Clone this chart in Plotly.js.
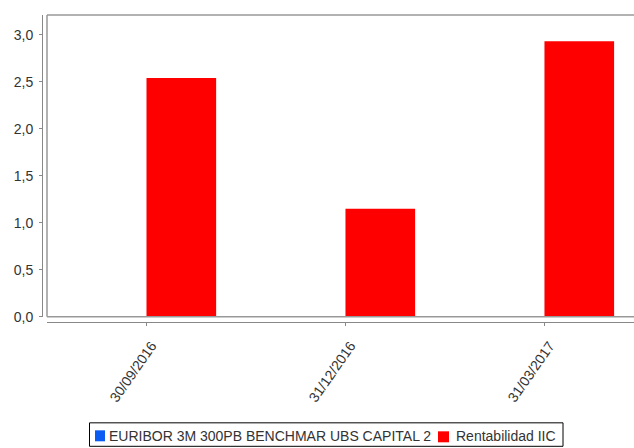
<!DOCTYPE html>
<html>
<head>
<meta charset="utf-8">
<script src="https://cdn.plot.ly/plotly-3.0.1.min.js"></script>
<style>html,body{margin:0;padding:0;background:#fff;}#chart{width:634px;height:448px;}</style>
</head>
<body>
<div id="chart"></div>
<script>
const categories = ['30/09/2016', '31/12/2016', '31/03/2017'];
const benchmarkValues = [0, 0, 0];
const fundValues = [2.54, 1.15, 2.93];
const benchmarkName = 'EURIBOR 3M 300PB BENCHMAR UBS CAPITAL 2';
const fundName = 'Rentabilidad IIC';
const benchmarkColor = '#0a5cf2';
const fundColor = '#ff0000';

const traces = [
  {type: 'bar', name: benchmarkName, x: categories, y: benchmarkValues,
   marker: {color: benchmarkColor}, showlegend: false},
  {type: 'bar', name: fundName, x: categories, y: fundValues,
   marker: {color: fundColor}, showlegend: false}
];

const W = 634, H = 448;
const mL = 42, mR = 0, mT = 15, mB = 125.5;
const plotW = W - mL - mR, plotH = H - mT - mB;
const px = v => (v - mL) / plotW;
const py = v => (H - mB - v) / plotH;

const FONT = 'Liberation Sans, Arial, sans-serif';
const TXT = '#333';

const layout = {
  width: W, height: H,
  margin: {l: mL, r: mR, t: mT, b: mB, pad: 0, autoexpand: false},
  paper_bgcolor: '#ffffff', plot_bgcolor: '#ffffff',
  separators: ',.',
  barmode: 'group', bargap: 0.3, bargroupgap: 0,
  font: {family: FONT, size: 14, color: TXT},
  showlegend: false,
  xaxis: {
    type: 'category', domain: [5 / plotW, 1], anchor: 'free', position: 0,
    range: [-0.5, 2.45], showgrid: false, zeroline: false, automargin: false,
    showline: true, linecolor: '#888', linewidth: 1,
    ticks: 'outside', ticklen: 3, tickcolor: '#888',
    tickangle: -55, tickfont: {family: FONT, size: 14, color: TXT},
    ticklabelshift: 5, ticklabelstandoff: 6
  },
  yaxis: {
    domain: [5.2 / plotH, 1], anchor: 'free', position: 0,
    range: [0, 3.21], dtick: 0.5, tickformat: '.1f', automargin: false,
    showgrid: false, zeroline: false,
    showline: true, linecolor: '#888', linewidth: 1,
    ticks: 'outside', ticklen: 3, tickcolor: '#888',
    tickfont: {family: FONT, size: 14, color: TXT},
    ticklabelstandoff: 3
  },
  shapes: [
    {type: 'line', xref: 'x domain', yref: 'y domain', x0: 0, x1: 1, y0: 1, y1: 1, line: {color: '#999', width: 1.5}},
    {type: 'line', xref: 'x domain', yref: 'y domain', x0: 0, x1: 0, y0: 0, y1: 1, line: {color: '#999', width: 1.5}},
    {type: 'line', xref: 'x domain', yref: 'y domain', x0: 0, x1: 1, y0: 0, y1: 0, line: {color: '#999', width: 1.5}},
    // legend box
    {type: 'rect', xref: 'paper', yref: 'paper', x0: px(89.5), x1: px(563), y0: py(423.5), y1: py(447),
     line: {color: '#000', width: 1}, fillcolor: '#fff'},
    {type: 'rect', xref: 'paper', yref: 'paper', x0: px(95), x1: px(105), y0: py(431), y1: py(442),
     line: {width: 0}, fillcolor: benchmarkColor},
    {type: 'rect', xref: 'paper', yref: 'paper', x0: px(438), x1: px(449), y0: py(432), y1: py(443),
     line: {width: 0}, fillcolor: fundColor}
  ],
  annotations: [
    {xref: 'paper', yref: 'paper', x: px(107), y: py(437), xanchor: 'left', yanchor: 'middle',
     text: benchmarkName, showarrow: false, font: {family: FONT, size: 14, color: TXT}},
    {xref: 'paper', yref: 'paper', x: px(454), y: py(437), xanchor: 'left', yanchor: 'middle',
     text: fundName, showarrow: false, font: {family: FONT, size: 14, color: TXT}}
  ]
};

Plotly.newPlot('chart', traces, layout, {displayModeBar: false, staticPlot: true});
</script>
</body>
</html>
